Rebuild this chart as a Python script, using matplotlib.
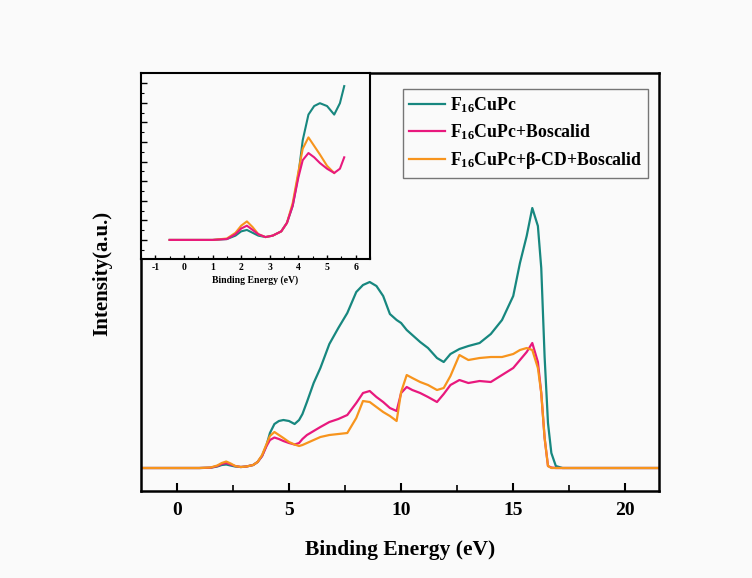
import matplotlib
matplotlib.use("Agg")
import matplotlib.pyplot as plt
from matplotlib.ticker import MultipleLocator, NullFormatter

plt.rcParams['font.family'] = ['Liberation Serif', 'DejaVu Serif']
plt.rcParams['font.weight'] = 'bold'
plt.rcParams['mathtext.fontset'] = 'custom'
plt.rcParams['mathtext.rm'] = 'Liberation Serif:bold'
plt.rcParams['mathtext.bf'] = 'Liberation Serif:bold'
plt.rcParams['mathtext.it'] = 'Liberation Serif:bold'
plt.rcParams['axes.unicode_minus'] = False

# binding energy (eV)
energy = [-1.5, 1.0, 1.5, 1.8, 2.0, 2.2, 2.4, 2.6, 2.85, 3.1, 3.4, 3.6, 3.8, 4.0,
          4.15, 4.35, 4.55, 4.75, 5.0, 5.25, 5.45, 5.6, 5.8, 6.1, 6.4, 6.8, 7.2,
          7.6, 8.0, 8.3, 8.6, 8.9, 9.2, 9.5, 9.8, 10.0, 10.25, 10.5, 10.85, 11.2,
          11.6, 11.9, 12.2, 12.6, 13.0, 13.5, 14.0, 14.5, 15.0, 15.3, 15.6, 15.85,
          16.1, 16.25, 16.4, 16.55, 16.7, 16.9, 17.2, 21.5]

f16cupc = [0, 0, 0.3, 1.5, 3, 3.5, 2.5, 1.5, 1, 1.5, 3, 6, 12, 23,
           35, 44, 47, 48, 47, 44, 48, 54, 66, 85, 100, 124, 140,
           155, 176, 183, 186, 182, 172, 154, 148, 145, 138, 133, 126, 120,
           110, 106, 114, 119, 122, 125, 134, 148, 172, 205, 232, 260,
           242, 200, 111, 45, 15, 2, 0, 0]

f16cupc_boscalid = [0, 0, 0.3, 2, 4, 5, 3.5, 2, 1, 1.5, 3, 6, 12, 22,
                    28, 30.5, 29, 27, 25, 23.5, 25, 29, 33, 37, 41, 46, 49,
                    53, 65, 75, 77, 71, 66, 60, 57, 75, 81, 78, 75, 71,
                    66, 74, 83, 88, 85, 87, 86, 93, 100, 108, 116, 125,
                    106, 75, 30, 2, 0.5, 0, 0, 0]

f16cupc_cd_boscalid = [0, 0, 0.5, 2.5, 5, 6.5, 4.5, 2, 1, 1.5, 3, 6, 13, 24,
                       32, 36, 33, 30, 26, 23.5, 22, 23, 25, 28, 31, 33, 34,
                       35, 50, 67, 66, 61, 56, 52, 47, 76, 93, 90, 86, 83,
                       78, 80, 92, 113, 108, 110, 111, 111, 114, 118, 120, 118,
                       100, 75, 30, 2, 0, 0, 0, 0]

labels = [r'F$_{16}$CuPc', r'F$_{16}$CuPc+Boscalid', r'F$_{16}$CuPc+β-CD+Boscalid']
colors = ['#17877f', '#e8187d', '#f7941d']
series = [f16cupc, f16cupc_boscalid, f16cupc_cd_boscalid]

bg = '#fafafa'
fig = plt.figure(figsize=(7.52, 5.78), dpi=100, facecolor=bg)

ax = fig.add_axes([0.1875, 0.1505, 0.6888, 0.7232], facecolor=bg)
for y, c, lab in zip(series, colors, labels):
  ax.plot(energy, y, color=c, linewidth=1.6, label=lab)
ax.set_xlim(-1.6, 21.5)
ax.set_ylim(-23, 395)
ax.xaxis.set_major_locator(MultipleLocator(5))
ax.xaxis.set_minor_locator(MultipleLocator(2.5))
ax.tick_params(axis='x', which='major', direction='in', length=6, width=1.5,
               labelsize=14, pad=8)
ax.tick_params(axis='x', which='minor', direction='in', length=4, width=1.2)
ax.set_yticks([])
for s in ax.spines.values():
  s.set_linewidth(1.8)
ax.set_xlabel('Binding Energy (eV)', fontsize=15.5, fontweight='bold', labelpad=15)
ax.set_ylabel('Intensity(a.u.)', fontsize=15, fontweight='bold')
ax.yaxis.set_label_coords(-0.055, 0.52)

leg = ax.legend(loc='upper right', bbox_to_anchor=(0.99, 0.975), fontsize=12.8,
                frameon=True, fancybox=False, edgecolor='#555555',
                handlelength=2.0, handletextpad=0.3, labelspacing=0.45,
                borderpad=0.35, borderaxespad=0.3)
leg.get_frame().set_facecolor(bg)
leg.get_frame().set_linewidth(1.0)

# inset, low binding energy region
ins = fig.add_axes([0.1875, 0.5519, 0.3045, 0.3218], facecolor=bg)
n = sum(1 for e in energy if e <= 5.6)
n_or = sum(1 for e in energy if e <= 5.25)
ins.plot([-0.5] + energy[1:n], [0] + f16cupc[1:n], color=colors[0], linewidth=1.5)
ins.plot([-0.5] + energy[1:n_or], [0] + f16cupc_cd_boscalid[1:n_or], color=colors[2], linewidth=1.5)
ins.plot([-0.5] + energy[1:n], [0] + f16cupc_boscalid[1:n], color=colors[1], linewidth=1.5)
ins.set_xlim(-1.5, 6.5)
ins.set_ylim(-6.7, 58.6)
ins.xaxis.set_major_locator(MultipleLocator(1))
ins.xaxis.set_minor_locator(MultipleLocator(0.5))
ins.yaxis.set_major_locator(MultipleLocator(6.88))
ins.yaxis.set_minor_locator(MultipleLocator(3.44))
ins.yaxis.set_major_formatter(NullFormatter())
ins.tick_params(axis='x', which='major', direction='in', length=3, width=1,
                labelsize=7, pad=3)
ins.tick_params(axis='x', which='minor', direction='in', length=2, width=0.8)
ins.tick_params(axis='y', which='major', direction='in', length=4, width=1)
ins.tick_params(axis='y', which='minor', direction='in', length=2, width=0.8)
for s in ins.spines.values():
  s.set_linewidth(1.5)
ins.set_xlabel('Binding Energy (eV)', fontsize=7, fontweight='bold', labelpad=2)

plt.savefig('out.png', dpi=100, facecolor=bg)
plt.close()
